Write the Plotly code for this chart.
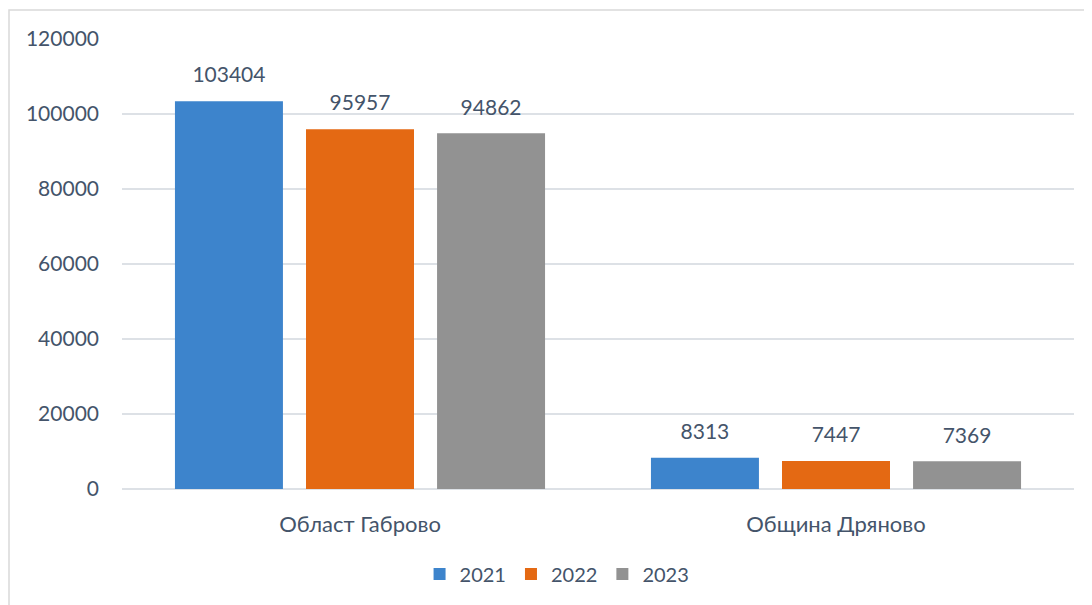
import plotly.graph_objects as go

categories = ["Област Габрово", "Община Дряново"]
years = ["2021", "2022", "2023"]
values = {
    "2021": [103404, 8313],
    "2022": [95957, 7447],
    "2023": [94862, 7369],
}
colors = {"2021": "#3D84CC", "2022": "#E46913", "2023": "#929292"}

TEXT = "#44546A"
FONT = "Lato"

fig = go.Figure()

for yr in years:
    fig.add_trace(go.Bar(
        x=categories, y=values[yr], name=yr,
        marker=dict(color=colors[yr], line=dict(width=0)),
        offsetgroup=yr,
    ))
    # value labels sit a bit above the bar tops
    fig.add_trace(go.Scatter(
        x=categories, y=values[yr], mode="markers+text",
        text=[str(v) for v in values[yr]], textposition="top center",
        textfont=dict(family=FONT, size=21, color=TEXT),
        marker=dict(size=20, color="rgba(0,0,0,0)"),
        offsetgroup=yr, showlegend=False, hoverinfo="skip", cliponaxis=False,
    ))

# page body adds 8px, so the figure is a bit smaller than the window
fig.update_layout(
    width=1084, height=597,
    margin=dict(l=114, r=18, t=31, b=116, autoexpand=False),
    barmode="group", scattermode="group",
    bargap=0.174, bargroupgap=0.176,
    plot_bgcolor="white", paper_bgcolor="white",
    font=dict(family=FONT, size=21, color=TEXT),
    legend=dict(orientation="h", x=0.457, xanchor="center", y=-0.189, yanchor="middle",
                font=dict(size=20), itemwidth=30, traceorder="normal"),
    shapes=[dict(type="rect", xref="paper", yref="paper",
                 x0=-0.1187, x1=1.05, y0=-0.3, y1=1.0644,
                 line=dict(color="#D9D9D9", width=1.5), fillcolor="rgba(0,0,0,0)", layer="below")],
)

fig.update_yaxes(range=[0, 120000], dtick=20000, showgrid=True, gridcolor="#DDE1E6", gridwidth=1.5,
                 zeroline=True, zerolinecolor="#DDE1E6", zerolinewidth=1.5, automargin=False,
                 showline=False, ticks="", ticklabelstandoff=22, tickformat="d")
fig.update_xaxes(showline=False, ticks="", ticklabelstandoff=20, automargin=False,
                 tickfont=dict(size=22))

fig.write_html("out.html")
